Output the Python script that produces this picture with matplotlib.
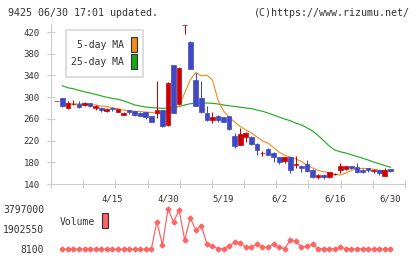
import numpy as np
import matplotlib
matplotlib.use('Agg')
import matplotlib.pyplot as plt
from matplotlib.patches import Rectangle

plt.rcParams.update({
    'font.family': 'DejaVu Sans Mono',
    'font.size': 6.5,
})

W, H = 420, 259

# ---------------------------------------------------------------------------
# data (61 trading days, index 0 .. 60)
# ---------------------------------------------------------------------------
date_labels = ['4/15', '4/30', '5/19', '6/2', '6/16', '6/30']
date_label_idx = [10, 20, 30, 40, 50, 60]

opens = [292, 298, 280, 287, 288, 285, 289, 280, 280, 275,
         280, 273, 268, 276, 274, 271, 272, 265, 271, 276,
         248, 359, 288, 433, 402, 331, 298, 270, 257, 265,
         263, 265, 228, 212, 227, 227, 214, 197, 205, 198,
         189, 183, 189, 175, 174, 177, 166, 152, 157, 152,
         158, 166, 168, 173, 171, 166, 170, 164, 165, 155,
         168]
highs = [293, 299, 293, 295, 292, 291, 290, 285, 281, 280,
         282, 279, 273, 277, 275, 272, 273, 266, 330, 277,
         327, 360, 355, 433, 404, 344, 330, 284, 273, 267,
         264, 266, 234, 244, 235, 229, 215, 201, 207, 199,
         190, 190, 190, 191, 175, 184, 167, 158, 158, 163,
         160, 178, 174, 174, 179, 167, 170, 167, 166, 169,
         168]
lows = [292, 282, 279, 285, 280, 284, 281, 276, 273, 273,
        275, 272, 267, 269, 265, 265, 259, 254, 262, 245,
        246, 270, 287, 416, 351, 283, 270, 256, 253, 255,
        254, 240, 206, 211, 217, 212, 194, 192, 193, 181,
        177, 178, 161, 169, 163, 163, 151, 149, 150, 151,
        157, 161, 166, 167, 161, 161, 162, 160, 157, 154,
        162]
closes = [293, 283, 289, 288, 281, 290, 284, 284, 276, 279,
          278, 278, 271, 272, 268, 266, 263, 255, 277, 246,
          326, 271, 354, 433, 352, 284, 273, 257, 263, 258,
          255, 241, 210, 232, 234, 214, 203, 198, 194, 189,
          181, 189, 165, 177, 170, 164, 152, 157, 152, 162,
          159, 173, 173, 170, 163, 162, 165, 165, 160, 165,
          164]

# moving averages and volume start at day 1
ma5 = [287.4, 287.4, 287.7, 287.4, 287.4, 286.4, 285.5, 283.7, 282.8, 280.4,
       278.5, 276.3, 274.8, 274.1, 273.5, 272.6, 271.7, 270.8, 269.9, 274.4,
       276.8, 283.7, 307.6, 331.6, 345.4, 339.3, 340.4, 331.6, 294.7, 274.4,
       263.4, 254.2, 245.9, 239.5, 233.9, 226.8, 219.2, 215.2, 207.2, 198.6,
       193.0, 189.7, 186.1, 181.4, 175.0, 169.5, 164.9, 162.6, 161.1, 157.5,
       156.6, 160.3, 165.2, 168.0, 168.8, 168.4, 167.1, 165.5, 164.0, 163.4]
ma25 = [320.9, 317.2, 315.4, 312.4, 309.8, 307.6, 305.0, 302.3, 299.7, 297.7,
        296.2, 293.3, 289.6, 285.7, 283.7, 281.8, 280.9, 280.0, 279.4, 279.4,
        280.9, 282.8, 285.5, 287.9, 288.6, 289.2, 289.2, 288.6, 287.4, 285.5,
        284.1, 282.8, 281.5, 280.0, 278.9, 276.3, 273.9, 270.8, 267.1, 263.2,
        259.7, 256.6, 252.0, 248.7, 243.5, 237.6, 229.3, 220.0, 210.0, 202.6,
        199.3, 197.1, 193.8, 190.7, 187.5, 184.2, 180.5, 177.2, 173.9, 170.8]
volume = [23400, 17800, 12600, 31200, 19500, 9800, 15300, 27600, 11900, 8100,
          20400, 14200, 24100, 16800, 10700, 26500, 18300, 2603000, 412000, 3797000,
          2575000, 3703000, 882000, 2979000, 1823000, 2227000, 506000, 318000, 65000, 62000,
          318000, 694000, 628000, 196000, 192000, 478000, 196000, 199000, 478000, 196000,
          65000, 882000, 788000, 196000, 318000, 478000, 65000, 61000, 66000, 63000,
          196000, 64000, 62000, 30000, 65000, 25000, 26000, 24000, 25000, 27000]

vol_ticks = [8100, 1902550, 3797000]

_RED = '#cc0000'
_BLUE = '#4048c4'
_ORANGE = '#f08c1c'
_GREEN = '#18a818'
_VOL = '#ff6464'
_AXIS = '#cccccc'
_TEXT = '#333333'


def fx(x):
    return x / W


def fy(y):
    return 1 - y / H


fig = plt.figure(figsize=(W / 100, H / 100), dpi=100)

xlo, xhi = -1.04, 62.63

# ---------------------------------------------------------------------------
# price panel
# ---------------------------------------------------------------------------
ax = fig.add_axes([fx(51), fy(184), (405 - 51) / W, (184 - 24.4) / H])
ax.set_xlim(xlo, xhi)
ax.set_ylim(140, 434)

days = np.arange(len(opens))
ma_x = np.arange(1, len(opens))
ax.plot(ma_x, ma25, color=_GREEN, lw=0.8, zorder=2)
ax.plot(ma_x, ma5, color=_ORANGE, lw=0.8, zorder=2)

for i in days:
    o, h, l, c = opens[i], highs[i], lows[i], closes[i]
    col = _RED if c >= o else _BLUE
    ax.vlines(i, l, h, color=col, lw=0.75, zorder=3)
    ax.bar(i, max(abs(c - o), 0.3), bottom=min(o, c), width=0.84,
           color=col, edgecolor=col, linewidth=0.5, zorder=4, clip_on=False)

for side in ['top', 'right']:
    ax.spines[side].set_visible(False)
for side in ['left', 'bottom']:
    ax.spines[side].set_color(_AXIS)
    ax.spines[side].set_linewidth(0.8)

ax.set_yticks(range(140, 421, 40))
ax.tick_params(axis='y', direction='inout', length=5.8, width=0.8,
               color=_AXIS, labelcolor=_TEXT, pad=5.3, labelsize=6.5)
ax.set_xticks(date_label_idx)
ax.set_xticklabels(date_labels)
ax.tick_params(axis='x', which='major', length=0, pad=7.5,
               labelcolor=_TEXT, labelsize=6.5)
ax.set_xticks(np.linspace(xlo, xhi, 12), minor=True)
ax.tick_params(axis='x', which='minor', direction='inout', length=5.8,
               width=0.8, color=_AXIS)

# legend box
fig.add_artist(Rectangle((fx(65.7), fy(76.7)), (143.3 - 65.7) / W, (76.7 - 30) / H,
                         transform=fig.transFigure, facecolor='white',
                         edgecolor='#dddddd', linewidth=1.4, zorder=5))
fig.text(fx(124), fy(45.5), '5-day MA', ha='right', va='center',
         fontsize=7, color=_TEXT, zorder=6)
fig.text(fx(124), fy(62.3), '25-day MA', ha='right', va='center',
         fontsize=7, color=_TEXT, zorder=6)
fig.add_artist(Rectangle((fx(131.3), fy(52.3)), 6 / W, 15 / H,
                         transform=fig.transFigure, facecolor=_ORANGE,
                         edgecolor='#333333', linewidth=0.8, zorder=6))
fig.add_artist(Rectangle((fx(131.3), fy(69.3)), 6 / W, 15 / H,
                         transform=fig.transFigure, facecolor=_GREEN,
                         edgecolor='#333333', linewidth=0.8, zorder=6))

# ---------------------------------------------------------------------------
# volume panel
# ---------------------------------------------------------------------------
axv = fig.add_axes([fx(51), fy(249.3), (405 - 51) / W, (249.3 - 209) / H])
axv.set_xlim(xlo, xhi)
axv.set_ylim(vol_ticks[0], vol_ticks[-1])
axv.plot(ma_x, volume, color=_VOL, lw=0.9, marker='D', ms=2.5,
         clip_on=False)
for side in axv.spines.values():
    side.set_visible(False)
axv.set_xticks([])
axv.set_yticks(vol_ticks)
axv.set_yticklabels([str(v) for v in vol_ticks])
axv.tick_params(axis='y', length=0, pad=5, labelsize=7, labelcolor=_TEXT)

fig.text(fx(94.5), fy(222.3), 'Volume', ha='right', va='center',
         fontsize=7, color=_TEXT)
fig.add_artist(Rectangle((fx(102), fy(228)), 6 / W, 15 / H,
                         transform=fig.transFigure, facecolor=_VOL,
                         edgecolor='#333333', linewidth=0.8))

# header
fig.text(fx(8), fy(12.5), '9425 06/30 17:01 updated.', ha='left', va='center',
         fontsize=7.2, color=_TEXT)
fig.text(fx(410), fy(12.5), '(C)https://www.rizumu.net/', ha='right',
         va='center', fontsize=7.2, color=_TEXT)

fig.savefig('out.png', dpi=100)
